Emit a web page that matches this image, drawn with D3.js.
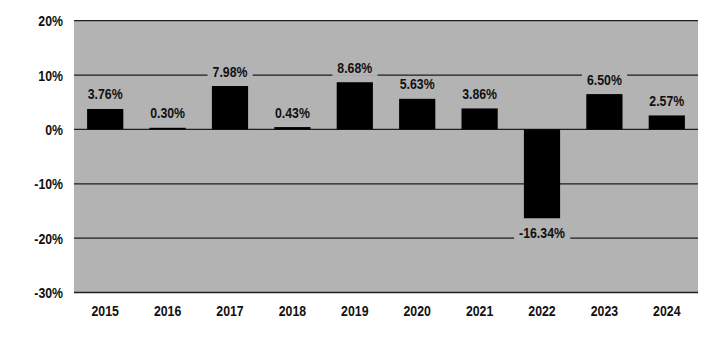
<!DOCTYPE html>
<html>
<head>
<meta charset="utf-8">
<script src="https://cdn.jsdelivr.net/npm/d3@7"></script>
<style>
  html, body { margin: 0; padding: 0; background: #ffffff; }
  svg text { font-family: "Liberation Sans", Arial, Helvetica, sans-serif; font-weight: bold; font-size: 14px; fill: #111; }
</style>
</head>
<body>
<svg id="chart" width="721" height="338"></svg>
<script>
// Annual returns by calendar year
const years = ["2015", "2016", "2017", "2018", "2019", "2020", "2021", "2022", "2023", "2024"];
const returns = [3.76, 0.30, 7.98, 0.43, 8.68, 5.63, 3.86, -16.34, 6.50, 2.57];
const yTicks = [20, 10, 0, -10, -20, -30];

const svg = d3.select("#chart");
const plot = { left: 74, right: 698, top: 20.7, bottom: 292.5 };
const bg = "#b3b3b3";
const squeeze = 0.88; // horizontal condensing of the bold labels

// Condense text horizontally while keeping its anchor point in place
function condense(sel) {
  sel.each(function() {
    const t = d3.select(this);
    const xv = +t.attr("x") || 0;
    t.attr("x", xv / squeeze).attr("transform", `scale(${squeeze},1)`);
  });
}

const x = d3.scaleBand()
  .domain(years)
  .range([plot.left, plot.right])
  .paddingInner(0.42)
  .paddingOuter(0.21);

const y = d3.scaleLinear()
  .domain([-30, 20])
  .range([plot.bottom, plot.top]);

// Plot background
svg.append("rect")
  .attr("x", plot.left)
  .attr("y", plot.top)
  .attr("width", plot.right - plot.left)
  .attr("height", plot.bottom - plot.top)
  .attr("fill", bg);

// Horizontal gridlines
svg.append("g")
  .selectAll("line")
  .data(yTicks)
  .join("line")
  .attr("x1", plot.left)
  .attr("x2", plot.right)
  .attr("y1", d => y(d))
  .attr("y2", d => y(d))
  .attr("stroke", "#1e1e1e")
  .attr("stroke-width", 1.3);

// Y axis labels
const yAxis = d3.axisLeft(y)
  .tickValues(yTicks)
  .tickFormat(d => d + "%")
  .tickSize(0)
  .tickPadding(11);
const gy = svg.append("g")
  .attr("transform", `translate(${plot.left},0)`)
  .call(yAxis);
gy.select(".domain").remove();
gy.selectAll("text").attr("dy", "0.36em").style("font-size", "14px").call(condense);

// X axis labels
const xAxis = d3.axisBottom(x).tickSize(0).tickPadding(14);
const gx = svg.append("g")
  .attr("transform", `translate(0,${plot.bottom})`)
  .call(xAxis);
gx.select(".domain").remove();
gx.selectAll("text").attr("dy", "0.71em").style("font-size", "14px").call(condense);

// Bars
svg.append("g")
  .selectAll("rect")
  .data(years.map((yr, i) => ({ yr, v: returns[i] })))
  .join("rect")
  .attr("x", d => x(d.yr))
  .attr("width", x.bandwidth())
  .attr("y", d => y(Math.max(0, d.v)))
  .attr("height", d => Math.abs(y(d.v) - y(0)))
  .attr("fill", "#000");

// Value labels with background knockout over gridlines
const labels = svg.append("g")
  .selectAll("g")
  .data(years.map((yr, i) => ({ yr, v: returns[i] })))
  .join("g")
  .attr("transform", d => {
    const cx = x(d.yr) + x.bandwidth() / 2;
    const by = d.v >= 0 ? y(d.v) - 9.5 : y(d.v) + 20;
    return `translate(${cx},${by})`;
  });

labels.each(function(d) {
  const g = d3.select(this);
  const t = g.append("text")
    .attr("text-anchor", "middle")
    .text(d.v.toFixed(2) + "%")
    .call(condense);
  const b = t.node().getBBox();
  g.insert("rect", "text")
    .attr("x", b.x * squeeze - 5)
    .attr("y", b.y)
    .attr("width", b.width * squeeze + 10)
    .attr("height", b.height)
    .attr("fill", bg);
});
</script>
</body>
</html>
